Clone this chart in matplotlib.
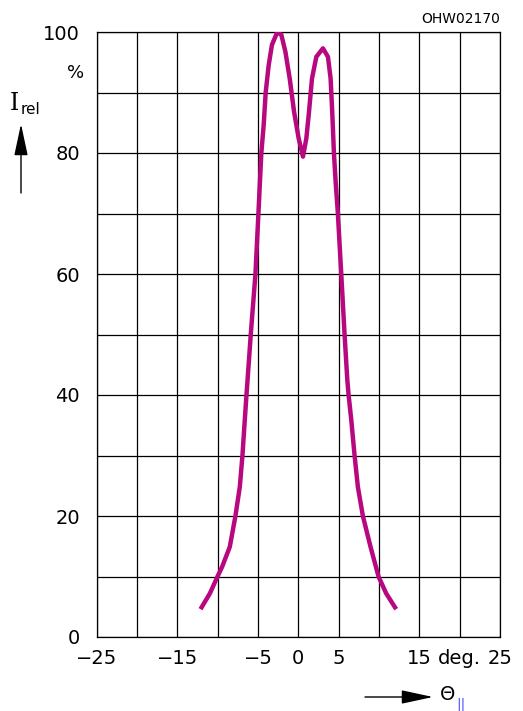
import matplotlib

matplotlib.use("Agg")
import matplotlib.pyplot as plt

# curve (deg., % relative intensity)
angle_deg = [
    -12.13, -10.97, -10.02, -9.45, -8.5, -7.8, -7.26, -6.93, -6.64, -6.43,
    -5.9, -5.32, -4.95, -4.76, -4.59, -4.3, -4.05, -3.68, -3.27,
    -2.6, -2.1, -1.6, -1.07, -0.53, 0.04, 0.57, 0.99, 1.32, 1.69,
    2.23, 3.05, 3.67, 4.0, 4.2, 4.41, 4.62, 4.9, 5.32, 5.73,
    6.07, 6.23, 6.56, 6.97, 7.38, 8.0, 8.95, 9.94, 10.89, 12.13,
]
rel_intensity = [
    4.6, 7.2, 10.0, 11.6, 14.9, 20.0, 24.8, 30.0, 35.9, 40.0,
    50.0, 60.0, 70.0, 75.3, 80.0, 84.6, 90.0, 94.5, 97.9,
    100.0, 99.5, 96.7, 92.3, 86.8, 82.4, 79.4, 82.4, 86.8, 92.3,
    95.9, 97.3, 95.9, 92.3, 86.8, 80.0, 75.3, 70.0, 60.0, 50.0,
    42.5, 40.0, 35.9, 30.0, 24.8, 20.0, 14.9, 10.0, 7.2, 4.6,
]

x_ticks = [-25, -20, -15, -10, -5, 0, 5, 10, 15, 20, 25]
x_labels = ["\u221225", "", "\u221215", "", "\u22125", "0", "5", "", "15", "deg.", "25"]
y_ticks = [0, 10, 20, 30, 40, 50, 60, 70, 80, 90, 100]
y_labels = ["0", "", "20", "", "40", "", "60", "", "80", "", "100"]

W, H = 523, 711
fig = plt.figure(figsize=(W / 100, H / 100), dpi=100)
ax = fig.add_axes([96.7 / W, 1 - 637 / H, (500 - 96.7) / W, (637 - 32) / H])

ax.plot(angle_deg, rel_intensity, color="#b8087f", linewidth=3.2,
        solid_capstyle="butt", solid_joinstyle="round", zorder=3)

ax.set_xlim(-25, 25)
ax.set_ylim(0, 100)
ax.set_xticks(x_ticks)
ax.set_xticklabels(x_labels)
ax.set_yticks(y_ticks)
ax.set_yticklabels(y_labels)
ax.tick_params(length=0, labelsize=14, pad=12)
ax.tick_params(axis="x", pad=9)
ax.grid(True, color="black", linewidth=0.9)
for sp in ax.spines.values():
    sp.set_linewidth(0.9)

# text decorations around the axes
fig.text(500 / W, 1 - 19 / H, "OHW02170", ha="right", va="center", fontsize=10)
fig.text(84 / W, 1 - 73 / H, "%", ha="right", va="center", fontsize=13)
fig.text(10 / W, 1 - 103 / H, "I", ha="left", va="center", fontsize=17,
         family="DejaVu Serif")
fig.text(21 / W, 1 - 110 / H, "rel", ha="left", va="center", fontsize=11)

ax.annotate("", xy=(21, H - 124), xytext=(21, H - 193), xycoords="figure pixels",
            textcoords="figure pixels",
            arrowprops=dict(arrowstyle="-|>,head_length=1.4,head_width=0.3",
                            color="black", lw=1.0, mutation_scale=14,
                            shrinkA=0, shrinkB=0))
ax.annotate("", xy=(433, H - 697), xytext=(365, H - 697), xycoords="figure pixels",
            textcoords="figure pixels",
            arrowprops=dict(arrowstyle="-|>,head_length=1.4,head_width=0.3",
                            color="black", lw=1.0, mutation_scale=14,
                            shrinkA=0, shrinkB=0))
fig.text(440 / W, 1 - 694 / H, "\u0398", ha="left", va="center", fontsize=14)
fig.text(456 / W, 1 - 705 / H, "||", ha="left", va="center", fontsize=10,
         color="#4f4fff")

fig.savefig("out.png", dpi=100)
